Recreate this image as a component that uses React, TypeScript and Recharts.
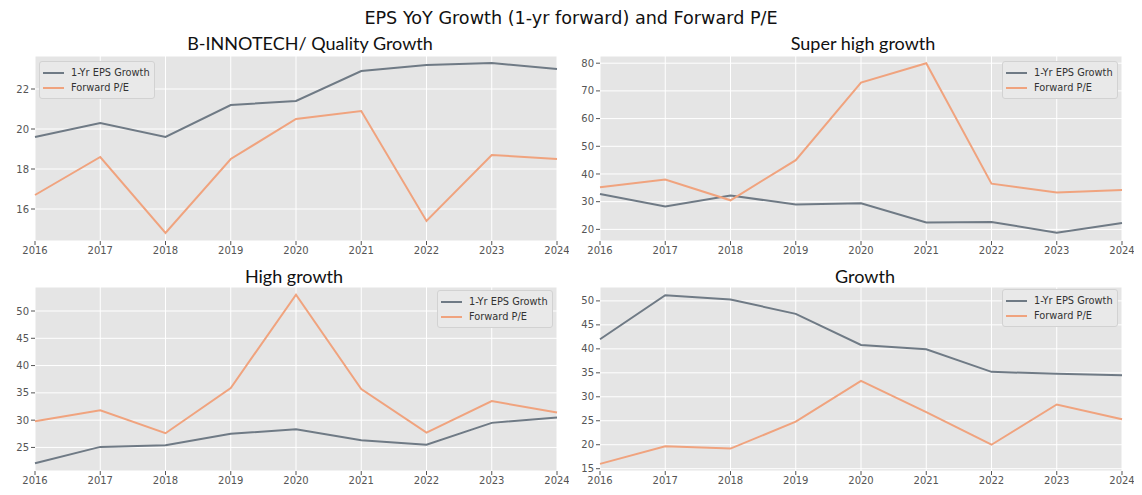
import { LineChart, Line, XAxis, YAxis, CartesianGrid, Legend } from "recharts";

const years = [2016, 2017, 2018, 2019, 2020, 2021, 2022, 2023, 2024];

const qualityEps = [19.6, 20.3, 19.6, 21.2, 21.4, 22.9, 23.2, 23.3, 23.0];
const qualityPe = [16.7, 18.6, 14.8, 18.5, 20.5, 20.9, 15.4, 18.7, 18.5];

const superEps = [32.8, 28.3, 32.2, 29.0, 29.4, 22.5, 22.7, 18.8, 22.3];
const superPe = [35.2, 38.0, 30.5, 45.0, 73.0, 80.0, 36.5, 33.3, 34.2];

const highEps = [22.1, 25.1, 25.4, 27.5, 28.35, 26.3, 25.5, 29.5, 30.5];
const highPe = [29.8, 31.8, 27.6, 35.9, 53.0, 35.7, 27.7, 33.5, 31.4];

const growthEps = [42.0, 51.2, 50.3, 47.3, 40.8, 39.9, 35.2, 34.8, 34.5];
const growthPe = [16.0, 19.7, 19.2, 24.8, 33.3, 26.8, 20.0, 28.4, 25.3];

const EPS_COLOR = "#6f7a85";
const PE_COLOR = "#f0a37e";
const TICK_FONT = "DejaVu Sans";

const buildRows = (eps: number[], pe: number[]) =>
  years.map((year, i) => ({ year, eps: eps[i], pe: pe[i] }));

type PanelProps = {
  title: string;
  titleX: number;
  titleY: number;
  eps: number[];
  pe: number[];
  domain: [number, number];
  ticks: number[];
  plotLeft: number;
  plotTop: number;
  plotH: number;
  legendLeft: number;
  legendTop: number;
};

const LegendBox = () => (
  <div
    style={{
      border: "1px solid #d2d2d2",
      background: "#e9e9e9",
      borderRadius: 3,
      padding: "3px 4px 3px 3px",
      fontFamily: TICK_FONT,
      fontSize: 9.8,
      color: "#333",
      lineHeight: "15px",
      whiteSpace: "nowrap",
    }}
  >
    {[
      { name: "1-Yr EPS Growth", color: EPS_COLOR },
      { name: "Forward P/E", color: PE_COLOR },
    ].map((s) => (
      <div key={s.name} style={{ display: "flex", alignItems: "center" }}>
        <span
          style={{
            display: "inline-block",
            width: 21,
            height: 2,
            background: s.color,
            marginRight: 7,
          }}
        />
        {s.name}
      </div>
    ))}
  </div>
);

const Panel = (p: PanelProps) => {
  const chartLeft = p.plotLeft - 35;
  const chartTop = p.plotTop;
  return (
    <>
      <div
        style={{
          position: "absolute",
          left: p.titleX - 200,
          top: p.titleY - 12,
          width: 400,
          textAlign: "center",
          fontFamily: "Lato",
          fontSize: 18,
          lineHeight: "24px",
          color: "#111",
        }}
      >
        {p.title}
      </div>
      <div style={{ position: "absolute", left: chartLeft, top: chartTop }}>
        <LineChart
          width={35 + 522 + 12}
          height={p.plotH + 25}
          data={buildRows(p.eps, p.pe)}
          margin={{ top: 0, right: 12, bottom: 0, left: 5 }}
        >
          <CartesianGrid fill="#e5e5e5" stroke="#ffffff" strokeWidth={1} />
          <XAxis
            dataKey="year"
            type="number"
            domain={[2016, 2024]}
            ticks={years}
            interval={0}
            height={25}
            axisLine={false}
            tickSize={4}
            tickMargin={2}
            tickLine={{ stroke: "#555" }}
            tick={{ fill: "#555", fontSize: 10, fontFamily: TICK_FONT }}
          />
          <YAxis
            type="number"
            domain={p.domain}
            allowDataOverflow
            ticks={p.ticks}
            interval={0}
            width={30}
            axisLine={false}
            tickSize={4}
            tickMargin={2}
            tickLine={{ stroke: "#555" }}
            tick={{ fill: "#555", fontSize: 10, fontFamily: TICK_FONT }}
          />
          <Legend
            layout="horizontal"
            verticalAlign="middle"
            align="center"
            content={() => <LegendBox />}
            wrapperStyle={{
              left: p.legendLeft - chartLeft,
              top: p.legendTop - chartTop,
              width: "auto",
              height: "auto",
            }}
          />
          <Line
            type="linear"
            dataKey="eps"
            name="1-Yr EPS Growth"
            stroke={EPS_COLOR}
            strokeWidth={2}
            dot={false}
            isAnimationActive={false}
          />
          <Line
            type="linear"
            dataKey="pe"
            name="Forward P/E"
            stroke={PE_COLOR}
            strokeWidth={2}
            dot={false}
            isAnimationActive={false}
          />
        </LineChart>
      </div>
    </>
  );
};

export default function App() {
  return (
    <div
      style={{
        position: "absolute",
        left: 0,
        top: 0,
        width: 1142,
        height: 495,
        background: "#fff",
        overflow: "hidden",
      }}
    >
      <div
        style={{
          position: "absolute",
          left: 0,
          top: 6,
          width: 1142,
          textAlign: "center",
          fontFamily: "DejaVu Sans",
          fontSize: 17.6,
          lineHeight: "24px",
          color: "#111",
        }}
      >
        EPS YoY Growth (1-yr forward) and Forward P/E
      </div>
      <Panel
        title="B-INNOTECH/ Quality Growth"
        titleX={310}
        titleY={43}
        eps={qualityEps}
        pe={qualityPe}
        domain={[14.4, 23.65]}
        ticks={[16, 18, 20, 22]}
        plotLeft={35}
        plotTop={56}
        plotH={185}
        legendLeft={39}
        legendTop={61}
      />
      <Panel
        title="Super high growth"
        titleX={863}
        titleY={43}
        eps={superEps}
        pe={superPe}
        domain={[15.8, 82.6]}
        ticks={[20, 30, 40, 50, 60, 70, 80]}
        plotLeft={600}
        plotTop={56}
        plotH={185}
        legendLeft={1002}
        legendTop={61}
      />
      <Panel
        title="High growth"
        titleX={294}
        titleY={276}
        eps={highEps}
        pe={highPe}
        domain={[20.68, 54.4]}
        ticks={[25, 30, 35, 40, 45, 50]}
        plotLeft={35}
        plotTop={287}
        plotH={184}
        legendLeft={437}
        legendTop={290}
      />
      <Panel
        title="Growth"
        titleX={865}
        titleY={276}
        eps={growthEps}
        pe={growthPe}
        domain={[14.52, 52.9]}
        ticks={[15, 20, 25, 30, 35, 40, 45, 50]}
        plotLeft={600}
        plotTop={287}
        plotH={184}
        legendLeft={1002}
        legendTop={289}
      />
    </div>
  );
}
